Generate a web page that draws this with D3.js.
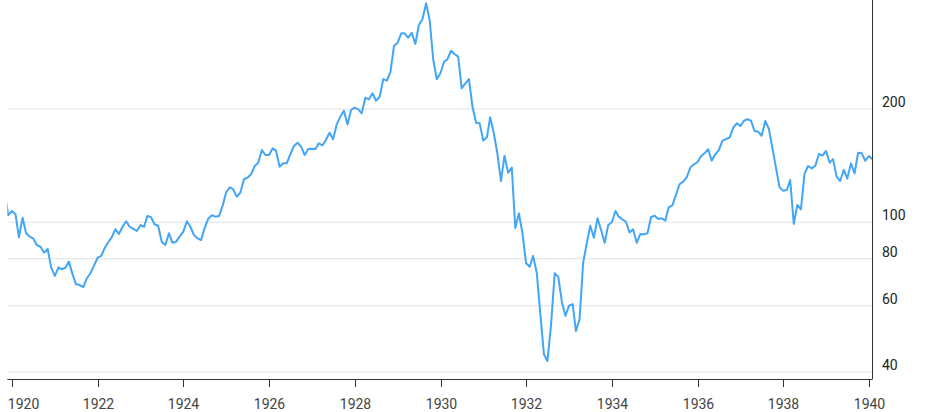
<!DOCTYPE html>
<html>
<head>
<meta charset="utf-8">
<script src="https://cdnjs.cloudflare.com/ajax/libs/d3/7.8.5/d3.min.js"></script>
<style>
  body { margin: 0; background: #fff; }
  svg { display: block; font-family: Roboto, "Noto Sans", sans-serif; }
</style>
</head>
<body>
<div class="svg-container"></div>
<script>
// monthly closes, first value is the close of this month
var firstMonth = "1919-10";

var closes1919 = [119.6, 104.5, 107.1];
var closes1920 = [105, 91.2, 102.8, 93.5, 91.6, 90.6, 87, 86.1, 83, 84.9, 75.9, 72];
var closes1921 = [75.9, 75, 75.7, 78.6, 72.7, 68.4, 68.1, 67.2, 71, 73.2, 76.7, 80.5];
var closes1922 = [81.4, 85.3, 88.5, 91.2, 95.8, 93.1, 97.3, 100.6, 97.3, 96, 94.8, 98.3];
var closes1923 = [97.3, 104, 103.1, 98.8, 97.9, 88.8, 87, 93.5, 88.2, 88.8, 91.6, 94.4];
var closes1924 = [100.6, 97.3, 92.5, 90.6, 89.7, 96.5, 102.2, 104.4, 103.5, 103.9, 110.4, 120.3];
var closes1925 = [123.8, 122.4, 117, 119.8, 130.1, 131.4, 134.1, 141.1, 144, 155.6, 150.9, 150.9];
var closes1926 = [157.2, 155, 140.5, 143.4, 143.4, 151.6, 159.5, 162.7, 158.8, 150.9, 156.5, 156.8];
var closes1927 = [156.5, 162.1, 160.1, 165.4, 173, 166.2, 182, 190.8, 197.9, 182, 198.8, 201.6];
var closes1928 = [199.6, 194.8, 214.3, 212.2, 220.1, 210.4, 215.6, 240.2, 237.8, 251.2, 294, 300];
var closes1929 = [317.8, 317.8, 309.4, 319, 297.6, 334.3, 346.9, 381.8, 344.7, 269.9, 239.8, 248.8];
var closes1930 = [267.1, 271, 285.7, 280, 275.5, 227, 234, 240.2, 202.8, 183.9, 183.2, 164.8];
var closes1931 = [168.2, 190, 172.4, 152.5, 128.7, 150.3, 135.4, 139.7, 96.5, 105.6, 93.5, 77.8];
var closes1932 = [76.2, 81.4, 73.4, 57.3, 44.6, 42.8, 53.5, 73.2, 71.7, 61.5, 56.4, 60];
var closes1933 = [60.6, 51.4, 55.2, 77.8, 87.9, 97.9, 91, 102.5, 95.5, 88.2, 98.3, 100];
var closes1934 = [107.1, 103.5, 101.8, 100.3, 94, 95.8, 88.2, 93.1, 92.9, 93.5, 103.1, 104.1];
var closes1935 = [102, 102.5, 101, 109.6, 110.9, 118.1, 126.2, 128.2, 131.6, 139.7, 142.6, 144.4];
var closes1936 = [150, 152.5, 156.3, 145.7, 151.6, 155.6, 164.8, 166.4, 167.8, 178.4, 183.2, 180.2];
var closes1937 = [186.2, 187.8, 186.2, 174.8, 174.1, 169.8, 185.8, 177, 157.2, 139.1, 123.8, 121.3];
var closes1938 = [121.8, 129.5, 99, 111.2, 108.2, 134.4, 141.1, 139.1, 141.3, 151.9, 150.3, 154.7];
var closes1939 = [144, 147.2, 132.2, 128.7, 137.7, 130.6, 143.4, 134.9, 153, 152.5, 145.7, 150];
var closes1940 = [147];

var yTickValues = [40, 60, 80, 100, 200];
var xTickYears = [1920, 1922, 1924, 1926, 1928, 1930, 1932, 1934, 1936, 1938, 1940];

var closes = [].concat(closes1919, closes1920, closes1921, closes1922, closes1923,
    closes1924, closes1925, closes1926, closes1927, closes1928, closes1929,
    closes1930, closes1931, closes1932, closes1933, closes1934, closes1935,
    closes1936, closes1937, closes1938, closes1939, closes1940);

var width = 932;
var height = 412;
var plotLeft = 7.3;
var plotRight = 872.5;
var plotBottom = 379;

var svg = d3.select(".svg-container").append("svg")
    .attr("width", width)
    .attr("height", height);

var start = d3.timeParse("%Y-%m")(firstMonth);
var data = closes.map(function(v, i) {
    // each close sits on the last day of its month
    return { date: d3.timeDay.offset(d3.timeMonth.offset(start, i + 1), -1), value: v };
});

// X
var x = d3.scaleTime()
    .domain([new Date(1920, 0, 1), new Date(1940, 0, 1)])
    .range([12, 869]);

// Y (log)
var y = d3.scaleLog()
    .domain([40, 200])
    .range([372, 109]);

// grid
svg.append("g")
    .selectAll("line")
    .data(yTickValues)
    .enter().append("line")
    .attr("x1", plotLeft)
    .attr("x2", plotRight)
    .attr("y1", function(d) { return y(d); })
    .attr("y2", function(d) { return y(d); })
    .attr("stroke", "#e3e3e3")
    .attr("stroke-width", 1);

// clip
svg.append("clipPath")
    .attr("id", "plot-clip")
    .append("rect")
    .attr("x", plotLeft)
    .attr("y", 0)
    .attr("width", plotRight - plotLeft)
    .attr("height", plotBottom);

var line = d3.line()
    .x(function(d) { return x(d.date); })
    .y(function(d) { return y(d.value); });

svg.append("path")
    .datum(data)
    .attr("clip-path", "url(#plot-clip)")
    .attr("d", line)
    .attr("fill", "none")
    .attr("stroke", "#42a5f5")
    .attr("stroke-width", 2)
    .attr("stroke-linejoin", "round");

// X axis
var xAxis = svg.append("g");
xAxis.append("line")
    .attr("x1", plotLeft)
    .attr("x2", plotRight)
    .attr("y1", plotBottom + 0.5)
    .attr("y2", plotBottom + 0.5)
    .attr("stroke", "#333");

var xTicks = xAxis.selectAll(".xtick")
    .data(xTickYears)
    .enter().append("g")
    .attr("class", "xtick")
    .attr("transform", function(d) { return "translate(" + (Math.round(x(new Date(d, 0, 1))) + 0.5) + ",0)"; });

xTicks.append("line")
    .attr("y1", plotBottom)
    .attr("y2", plotBottom + 8)
    .attr("stroke", "#333");

xTicks.append("text")
    .attr("y", 409)
    .attr("text-anchor", "middle")
    .attr("font-size", "14px")
    .attr("fill", "#444")
    .text(function(d) { return d; });

// keep the first label inside the plot
xTicks.select("text").each(function(d) {
    var pos = x(new Date(d, 0, 1));
    var w = this.getComputedTextLength();
    if (pos - w / 2 < plotLeft) {
        d3.select(this).attr("text-anchor", "start").attr("x", plotLeft + 0.5 - Math.round(pos) - 0.5);
    }
});

// Y axis on the right
svg.append("line")
    .attr("x1", 872.5)
    .attr("x2", 872.5)
    .attr("y1", 0)
    .attr("y2", plotBottom)
    .attr("stroke", "#333");

svg.append("g")
    .selectAll("text")
    .data(yTickValues)
    .enter().append("text")
    .attr("x", 882)
    .attr("y", function(d) { return y(d) - 2; })
    .attr("font-size", "14px")
    .attr("fill", "#222")
    .text(function(d) { return d; });
</script>
</body>
</html>
